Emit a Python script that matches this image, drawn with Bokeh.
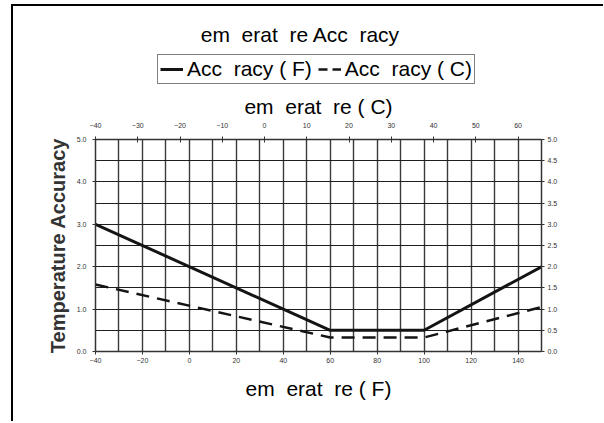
from bokeh.plotting import figure
from bokeh.layouts import column
from bokeh.models import (Range1d, LinearAxis, FixedTicker, Legend, LegendItem,
                          Grid, NumeralTickFormatter, Label)
from bokeh.core.properties import value
from bokeh.embed import file_html
from bokeh.resources import INLINE

NB = "\u00a0"
# ---- texts ----
title_text = "em " + NB + "erat " + NB + "re Acc " + NB + "racy"
x_label_f = "em " + NB + "erat " + NB + "re ( F)"
x_label_c = "em " + NB + "erat " + NB + "re ( C)"
y_label = "Temperature Accuracy"
series_f_name = "Acc " + NB + "racy ( F)"
series_c_name = "Acc " + NB + "racy ( C)"

# ---- data ----
temp_f = [-40, 60, 100, 150]
accuracy_f = [3.0, 0.5, 0.5, 2.0]
temp_f_c = [-40, 60, 100, 150]
accuracy_c = [1.58, 0.33, 0.33, 1.05]

# ---- ticks ----
bottom_ticks = [-40, -20, 0, 20, 40, 60, 80, 100, 120, 140]
top_ticks = [-40, -30, -20, -10, 0, 10, 20, 30, 40, 50, 60]
left_ticks = [0, 1, 2, 3, 4, 5]
right_ticks = [0, 0.5, 1.0, 1.5, 2.0, 2.5, 3.0, 3.5, 4.0, 4.5, 5.0]
vgrid_ticks = [-40, -30, -20, -10, 0, 10, 20, 30, 40, 50, 60, 70, 80, 90,
               100, 110, 120, 130, 140, 150]

FONT = "Liberation Sans"
BIG = "21px"
SMALL = "7px"
W = 590
TOP_H = 84

# ---------- header figure: title + legend (frame aligned with main frame) ----------
h = figure(width=W, height=TOP_H, x_range=Range1d(95, 541),
           y_range=Range1d(-300, -300 + TOP_H),
           x_axis_type=None, y_axis_type=None, output_backend="svg",
           toolbar_location=None, min_border=0)
h.outline_line_color = None
h.background_fill_color = "white"
h.border_fill_color = "white"
h.add_layout(Label(x=300, y=-300 + TOP_H - 28, text=title_text, text_align="center",
                   text_baseline="middle", text_font=FONT, text_font_size=BIG,
                   text_color="black"))
# legend sample lines (their data lie far outside this header's view)
g1 = h.line(temp_f, accuracy_f, line_color="#141414", line_width=3)
g2 = h.line(temp_f_c, accuracy_c, line_color="#141414", line_width=2.5, line_dash="9 5")
legend = Legend(items=[LegendItem(label=value(series_f_name), renderers=[g1]),
                       LegendItem(label=value(series_c_name), renderers=[g2])],
                orientation="horizontal", location=(62, 6),
                border_line_color="black", border_line_width=1,
                padding=2, spacing=6, margin=0, glyph_width=23, glyph_height=20,
                label_standoff=4, label_text_font=FONT, label_text_font_size=BIG,
                label_text_color="black",
                background_fill_color="white", background_fill_alpha=1)
h.add_layout(legend, "center")

# ---------- main chart ----------
p = figure(width=W, height=331, x_range=Range1d(-40, 150), y_range=Range1d(0, 5),
           x_axis_type=None, y_axis_type=None, output_backend="svg",
           toolbar_location=None, min_border_left=82, min_border_right=62,
           min_border_top=49, min_border_bottom=70)
p.outline_line_color = None
p.background_fill_color = "white"
p.border_fill_color = "white"

p.extra_x_ranges = {"c": Range1d(-40, (150 - 32) / 1.8)}
p.extra_y_ranges = {"r": Range1d(0, 5)}

p.add_layout(Grid(dimension=0, ticker=FixedTicker(ticks=vgrid_ticks),
                  grid_line_color="#3a3a3a", grid_line_width=1.4))
p.add_layout(Grid(dimension=1, ticker=FixedTicker(ticks=right_ticks),
                  grid_line_color="#1e1e1e", grid_line_width=1.1))

def style_axis(ax):
    ax.major_label_text_font = FONT
    ax.major_label_text_font_size = SMALL
    ax.major_label_text_color = "#333333"
    ax.axis_line_color = "#333333"
    ax.axis_line_width = 1.5
    ax.major_tick_line_color = "#333333"
    ax.minor_tick_line_color = None
    ax.axis_label_text_font = FONT
    ax.axis_label_text_font_size = BIG
    ax.axis_label_text_font_style = "normal"
    ax.axis_label_text_color = "black"

bottom = LinearAxis(ticker=FixedTicker(ticks=bottom_ticks), axis_label=x_label_f)
style_axis(bottom)
bottom.major_tick_out = 3
bottom.major_tick_in = 0
bottom.major_label_standoff = 3
bottom.axis_label_standoff = 11
p.add_layout(bottom, "below")

left = LinearAxis(ticker=FixedTicker(ticks=left_ticks), axis_label=y_label,
                  formatter=NumeralTickFormatter(format="0.0"))
style_axis(left)
left.major_tick_out = 3
left.major_tick_in = 0
left.major_label_standoff = 6
left.axis_label_standoff = 5
left.axis_label_text_font_size = "20px"
left.axis_label_text_font_style = "bold"
left.axis_label_text_color = "#333333"
p.add_layout(left, "left")

right = LinearAxis(ticker=FixedTicker(ticks=right_ticks), y_range_name="r",
                   formatter=NumeralTickFormatter(format="0.0"))
style_axis(right)
right.major_tick_out = 3
right.major_tick_in = 0
right.major_label_standoff = 3
p.add_layout(right, "right")

top = LinearAxis(ticker=FixedTicker(ticks=top_ticks), x_range_name="c",
                 axis_label=x_label_c)
style_axis(top)
top.major_tick_out = 3
top.major_tick_in = 3
top.major_label_standoff = 9
top.axis_label_standoff = 2
p.add_layout(top, "above")

p.line(temp_f, accuracy_f, line_color="#141414", line_width=3)
p.line(temp_f_c, accuracy_c, line_color="#141414", line_width=2.5, line_dash="13 8")

layout = column(h, p, spacing=0)
layout.styles = {"border-left": "2px solid black", "border-top": "2px solid black",
                 "margin-left": "11px", "margin-top": "4px"}

open("out.html", "w").write(file_html(layout, INLINE))
